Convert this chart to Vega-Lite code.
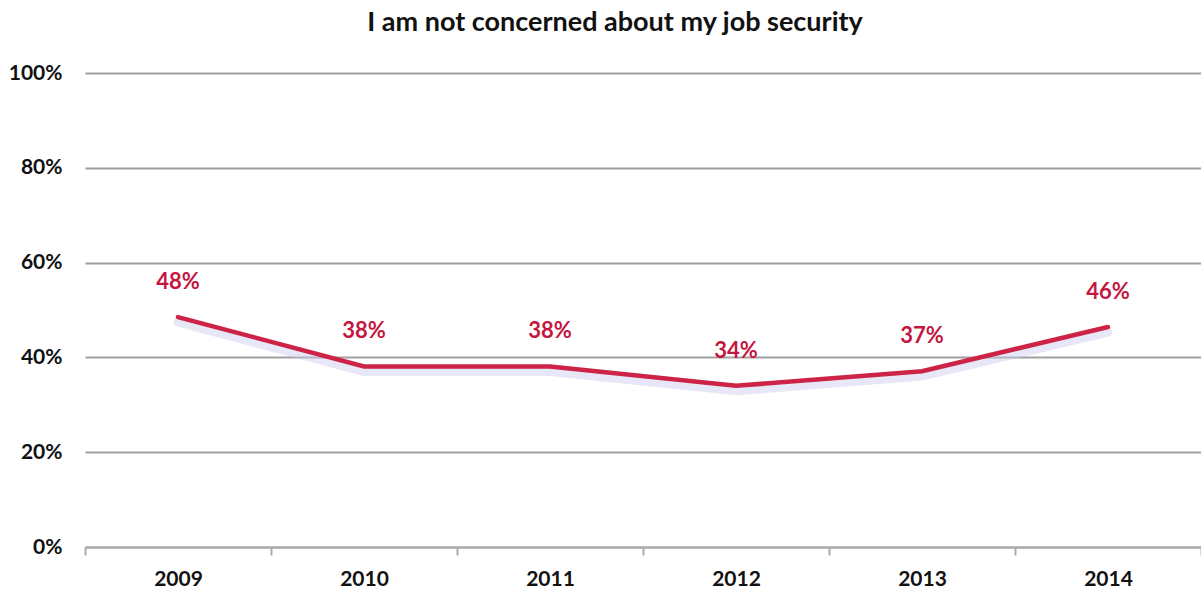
{
  "$schema": "https://vega.github.io/schema/vega-lite/v6.json",
  "width": 1116,
  "height": 474,
  "autosize": {"type": "none"},
  "padding": {"left": 85, "top": 73, "right": 0, "bottom": 47},
  "background": "white",
  "title": {
    "text": "I am not concerned about my job security",
    "font": "Lato",
    "fontSize": 27,
    "fontWeight": "bold",
    "color": "#111111",
    "offset": 25,
    "dx": -28
  },
  "config": {"view": {"stroke": null}},
  "data": {
    "values": [
      {"year": 2009, "value": 48.5, "label": "48%"},
      {"year": 2010, "value": 38.1, "label": "38%"},
      {"year": 2011, "value": 38.1, "label": "38%"},
      {"year": 2012, "value": 34.0, "label": "34%"},
      {"year": 2013, "value": 37.1, "label": "37%"},
      {"year": 2014, "value": 46.4, "label": "46%"}
    ]
  },
  "encoding": {
    "x": {
      "field": "year",
      "type": "quantitative",
      "scale": {"domain": [2008.5, 2014.5], "nice": false, "zero": false},
      "axis": {
        "title": null,
        "values": [2008.5, 2009.5, 2010.5, 2011.5, 2012.5, 2013.5, 2014.5],
        "labelExpr": "datum.value > 2014 ? '' : format(datum.value + 0.5, 'd')",
        "labelOffset": 93,
        "labelOverlap": false,
        "labelBound": false,
        "labelFlush": false,
        "grid": false,
        "domainColor": "#aaaaaa",
        "domainWidth": 2,
        "tickColor": "#aaaaaa",
        "tickWidth": 2,
        "tickSize": 8,
        "labelPadding": 13,
        "labelFont": "Lato",
        "labelFontSize": 21,
        "labelFontWeight": "bold",
        "labelColor": "#111111"
      }
    },
    "y": {
      "field": "value",
      "type": "quantitative",
      "scale": {"domain": [0, 100], "nice": false},
      "axis": {
        "title": null,
        "values": [0, 20, 40, 60, 80, 100],
        "labelExpr": "datum.value + '%'",
        "grid": true,
        "gridColor": "#a0a0a0",
        "gridWidth": 2,
        "domain": false,
        "ticks": false,
        "labelPadding": 23,
        "labelFont": "Lato",
        "labelFontSize": 21,
        "labelFontWeight": "bold",
        "labelColor": "#111111"
      }
    }
  },
  "layer": [
    {
      "mark": {"type": "line", "color": "#c9c9ee", "strokeWidth": 9, "opacity": 0.45, "yOffset": 5, "strokeCap": "round"}
    },
    {
      "mark": {"type": "line", "color": "#cc2346", "strokeWidth": 4.5, "strokeCap": "round"}
    },
    {
      "mark": {"type": "text", "dy": -35, "color": "#c4163f", "font": "Lato", "fontSize": 22, "fontWeight": "bold"},
      "encoding": {"text": {"field": "label"}}
    }
  ]
}
